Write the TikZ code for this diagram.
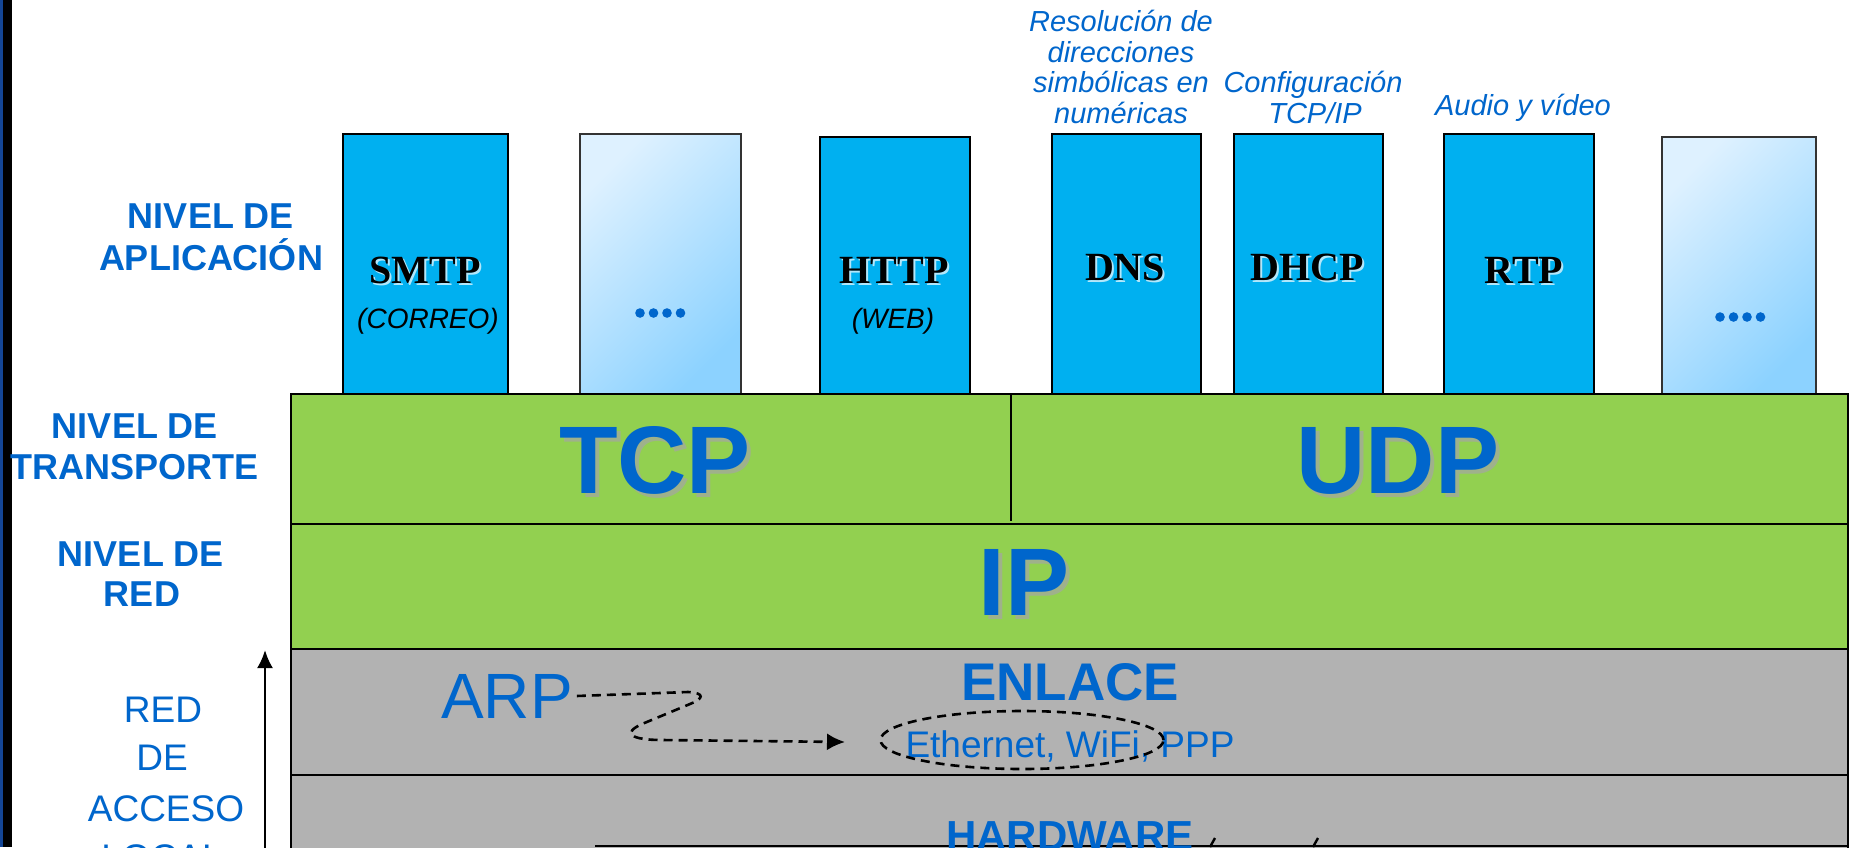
\documentclass[tikz,border=0pt]{standalone}
\usepackage{fontspec}
\setmainfont{Liberation Sans}
\newfontfamily\tnr{Liberation Serif}
\usetikzlibrary{shapes.geometric,arrows.meta}
\definecolor{tblue}{RGB}{0,102,204}
\definecolor{appblue}{RGB}{0,176,240}
\definecolor{lgreen}{RGB}{146,208,80}
\definecolor{lgray}{RGB}{178,178,178}
\definecolor{lightA}{RGB}{222,241,255}
\definecolor{lightB}{RGB}{140,210,255}
\definecolor{barblue}{RGB}{20,70,150}
\definecolor{shgray}{RGB}{165,165,165}
\tikzset{
  appbox/.style={draw=black, line width=2.6pt, fill=appblue},
  gradbox/.style={draw=black!80, line width=2.6pt, top color=lightA, bottom color=lightB, shading angle=45},
  layer/.style={draw=black, line width=2.8pt},
  txt/.style={anchor=base, inner sep=0pt, outer sep=0pt},
  lvl/.style={txt, text=tblue, font=\bfseries\fontsize{36}{36}\selectfont},
  acc/.style={txt, text=tblue, font=\fontsize{37}{37}\selectfont},
  big/.style={txt, text=tblue, font=\bfseries\fontsize{96}{96}\selectfont},
  bigsh/.style={big, text=shgray, opacity=0.7},
  proto/.style={txt, text=black, font=\tnr\bfseries\fontsize{40}{40}\selectfont},
  protosh/.style={proto, text=white, opacity=0.7},
  sub/.style={txt, text=black, font=\itshape\fontsize{28}{28}\selectfont},
  note/.style={txt, text=tblue, font=\itshape\fontsize{29}{29}\selectfont},
  dsh/.style={draw=black, line width=2.6pt, dash pattern=on 9pt off 6pt},
  dotmark/.style={fill=tblue, draw=none}
}
\begin{document}
\begin{tikzpicture}[x=1pt,y=-1pt]
\useasboundingbox (0,0) rectangle (1860,847);
\clip (0,0) rectangle (1860,847);
\fill[white] (0,0) rectangle (1860,847);
% left edge bar
\fill[barblue] (0,0) rectangle (3,847);
\fill[black] (3,0) rectangle (12,847);

% application boxes
\draw[appbox] (343,134) rectangle (508,394);
\draw[gradbox] (580,134) rectangle (741,394);
\draw[appbox] (820,137) rectangle (970,394);
\draw[appbox] (1052,134) rectangle (1201,394);
\draw[appbox] (1234,134) rectangle (1383,394);
\draw[appbox] (1444,134) rectangle (1594,394);
\draw[gradbox] (1662,137) rectangle (1816,394);

% layers
\draw[layer, fill=lgreen] (291,394) rectangle (1848,524);
\draw[layer, fill=lgreen] (291,524) rectangle (1848,649);
\draw[layer, fill=lgray] (291,649) rectangle (1848,775);
\draw[layer, fill=lgray] (291,775) rectangle (1848,920);
\draw[line width=2pt] (1011,395) -- (1011,521);
\draw[line width=2.6pt] (595,846) -- (1848,846);

% protocol labels
\node[protosh] at (427,285) {SMTP};
\node[proto] (smtp) at (425,283) {SMTP};
\node[sub] (correo) at (428,328) {(CORREO)};
\node[protosh] at (896,285) {HTTP};
\node[proto] (http) at (894,283) {HTTP};
\node[sub] (web) at (893,328) {(WEB)};
\node[protosh] at (1127,282) {DNS};
\node[proto] (dns) at (1125,280) {DNS};
\node[protosh] at (1309,282) {DHCP};
\node[proto] (dhcp) at (1307,280) {DHCP};
\node[protosh] at (1526,285) {RTP};
\node[proto] (rtp) at (1524,283) {RTP};
\foreach \i in {0,1,2,3} {
  \fill[dotmark] (640+13.5*\i,313) circle (4.8);
  \fill[dotmark] (1720+13.5*\i,317) circle (4.8);
}

% notes above
\node[note] (res1) at (1121,31) {Resolución de};
\node[note] (res2) at (1121,62) {direcciones};
\node[note] (res3) at (1121,92) {simbólicas en};
\node[note] (res4) at (1121,123) {numéricas};
\node[note] (conf1) at (1313,92) {Configuración};
\node[note] (conf2) at (1315,123) {TCP/IP};
\node[note] (audio) at (1523,115) {Audio y vídeo};

% big layer names
\node[bigsh] at (659,497) {TCP};
\node[big] (tcp) at (655,493) {TCP};
\node[bigsh] at (1402,497) {UDP};
\node[big] (udp) at (1398,493) {UDP};
\node[bigsh] at (1028,619) {IP};
\node[big] (ip) at (1024,615) {IP};

% link layer
\node[txt, text=tblue, font=\bfseries\fontsize{53}{53}\selectfont] (enlace) at (1070,700) {ENLACE};
\node[txt, text=tblue, font=\fontsize{64}{64}\selectfont] (arp) at (507,718) {ARP};
\node[txt, text=tblue, font=\fontsize{37}{37}\selectfont] (eth) at (1070,757) {Ethernet, WiFi, PPP};
\node[dsh, ellipse, minimum width=283pt, minimum height=58pt, inner sep=0pt] (ethell) at (1022,740) {};
\coordinate (arptip) at (845,742);
\draw[dsh, -{Latex[length=18pt,width=17pt]}] ([xshift=4pt]arp.east) -- (688,692)
  .. controls (706,693) and (703,699) .. (690,704) -- (642,724)
  .. controls (622,733) and (630,740) .. (662,740) -- (arptip);
\node[txt, text=tblue, font=\bfseries\fontsize{42}{42}\selectfont] (hw) at (1070,850) {HARDWARE};
\draw[line width=2.4pt] (1210,847) -- (1215,838);
\draw[line width=2.4pt] (1313,847) -- (1318,838);

% left level labels
\node[lvl] (la1) at (211,228) {NIVEL DE};
\node[lvl] (la2) at (211,270) {APLICACIÓN};
\node[lvl] (lt1) at (135,438) {NIVEL DE};
\node[lvl] (lt2) at (135,479) {TRANSPORTE};
\node[lvl] (lr1) at (141,566) {NIVEL DE};
\node[lvl] (lr2) at (142,606) {RED};
\node[acc] (ra1) at (163,722) {RED};
\node[acc] (ra2) at (162,770) {DE};
\node[acc] (ra3) at (166,821) {ACCESO};
\node[acc] (ra4) at (162,870) {LOCAL};
\coordinate (upbot) at (265,900);
\coordinate (uptop) at (265,650);
\draw[line width=2.4pt, -{Latex[length=18pt,width=16pt]}] (upbot) -- (uptop);
\end{tikzpicture}
\end{document}
